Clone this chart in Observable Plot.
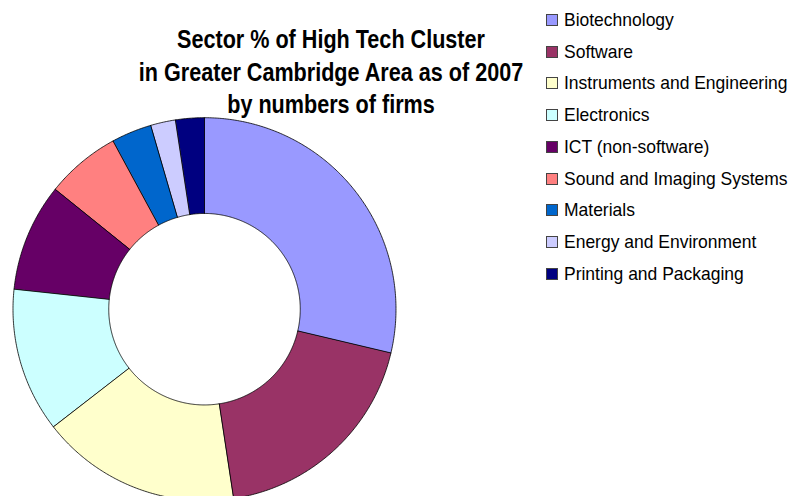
<!DOCTYPE html>
<html>
<head>
<meta charset="utf-8">
<script src="https://cdn.jsdelivr.net/npm/d3@7"></script>
<script src="https://cdn.jsdelivr.net/npm/@observablehq/plot@0.6"></script>
<style>
  html, body { margin: 0; padding: 0; background: #fff; }
  #wrap { position: relative; width: 791px; height: 496px; overflow: hidden; font-family: "Liberation Sans", Arial, sans-serif; }
  #chart { position: absolute; left: 0; top: 0; }
  #title { position: absolute; left: 81px; width: 500px; top: 23px; text-align: center; font-weight: bold; font-size: 25.8px; line-height: 32.5px; color: #000; transform: scaleX(0.837); transform-origin: 250px 0; }
  #legend { position: absolute; left: 546px; top: 4px; }
  .row { display: flex; align-items: center; height: 31.75px; color: #000; white-space: nowrap; }
  .row span { font-size: 18.5px; display: inline-block; transform: scaleX(0.945); transform-origin: 0 50%; }
  .sw { width: 12px; height: 12px; border: 1px solid #444; box-sizing: border-box; margin-right: 6px; flex: none; }
</style>
</head>
<body>
<div id="wrap">
  <div id="chart"></div>
  <div id="title">Sector % of High Tech Cluster<br>in Greater Cambridge Area as of 2007<br>by numbers of firms</div>
  <div id="legend"></div>
</div>
<script>
const sectors = ["Biotechnology", "Software", "Instruments and Engineering", "Electronics", "ICT (non-software)", "Sound and Imaging Systems", "Materials", "Energy and Environment", "Printing and Packaging"];
const shares = [28.7, 18.9, 16.9, 12.2, 9.1, 6.3, 3.4, 2.1, 2.4];
const colors = ["#9999FF", "#993366", "#FFFFCC", "#CCFFFF", "#660066", "#FF8080", "#0066CC", "#CCCCFF", "#000080"];

const data = sectors.map((s, i) => ({sector: s, share: shares[i]}));

// layout
const cx = 204, cy = 308.7, R = 191.5, inner = 0.5;

// build slice outlines from d3.pie angles (data units: outer radius = 1)
const arcs = d3.pie().sort(null).value(d => d.share)(data);
const pts = [];
for (const a of arcs) {
  const n = Math.max(4, Math.ceil((a.endAngle - a.startAngle) / (Math.PI / 360)));
  for (let k = 0; k <= n; k++) {
    const t = a.startAngle + (a.endAngle - a.startAngle) * k / n;
    pts.push({sector: a.data.sector, x: Math.sin(t), y: Math.cos(t)});
  }
  for (let k = n; k >= 0; k--) {
    const t = a.startAngle + (a.endAngle - a.startAngle) * k / n;
    pts.push({sector: a.data.sector, x: inner * Math.sin(t), y: inner * Math.cos(t)});
  }
}

const chart = Plot.plot({
  width: 791,
  height: 496,
  margin: 0,
  x: {domain: [-1, 1], range: [cx - R, cx + R], axis: null},
  y: {domain: [-1, 1], range: [cy + R, cy - R], axis: null},
  color: {domain: sectors, range: colors},
  marks: [
    Plot.line(pts, {x: "x", y: "y", z: "sector", fill: "sector", stroke: "#000", strokeWidth: 0.8, curve: "linear-closed"})
  ]
});
document.getElementById("chart").appendChild(chart);

const legend = document.getElementById("legend");
sectors.forEach((s, i) => {
  const row = document.createElement("div");
  row.className = "row";
  const sw = document.createElement("div");
  sw.className = "sw";
  sw.style.background = colors[i];
  const lab = document.createElement("span");
  lab.textContent = s;
  row.appendChild(sw);
  row.appendChild(lab);
  legend.appendChild(row);
});
</script>
</body>
</html>
